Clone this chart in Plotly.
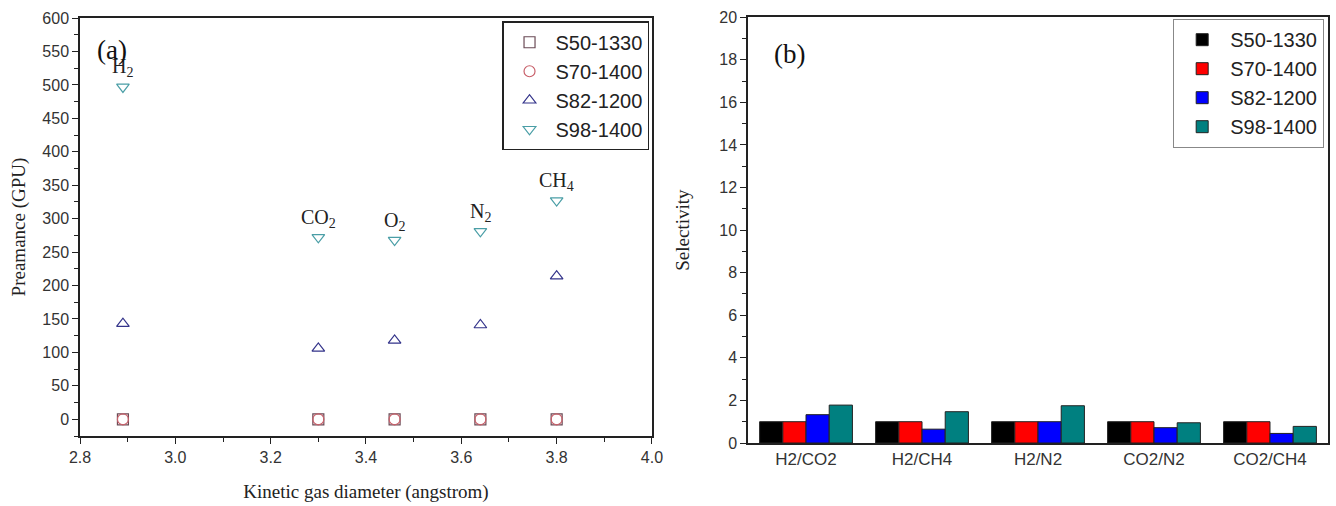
import plotly.graph_objects as go

# Panel (a) data
gases = ["H<sub>2</sub>", "CO<sub>2</sub>", "O<sub>2</sub>", "N<sub>2</sub>", "CH<sub>4</sub>"]
diameters = [2.89, 3.30, 3.46, 3.64, 3.80]
s50_perm = [0, 0, 0, 0, 0]
s70_perm = [0, 0, 0, 0, 0]
s82_perm = [143, 106, 118, 141, 214]
s98_perm = [497, 272, 268, 281, 327]

# Panel (b) data
pairs = ["H2/CO2", "H2/CH4", "H2/N2", "CO2/N2", "CO2/CH4"]
s50_sel = [1.0, 1.0, 1.0, 1.0, 1.0]
s70_sel = [1.0, 1.0, 1.0, 1.0, 1.0]
s82_sel = [1.33, 0.65, 1.0, 0.72, 0.45]
s98_sel = [1.78, 1.47, 1.75, 0.95, 0.78]

series_names = ["S50-1330", "S70-1400", "S82-1200", "S98-1400"]

fig = go.Figure()

sym = ["square-open", "circle-open", "triangle-up-open", "triangle-down-open"]
mcol = ["#6a4a55", "#c8606a", "#33338a", "#4a9ea6"]
for name, vals, s, c in zip(series_names, [s50_perm, s70_perm, s82_perm, s98_perm], sym, mcol):
    fig.add_trace(go.Scatter(x=diameters, y=vals, mode="markers", name=name,
                             marker=dict(symbol=s, size=11, color=c, line=dict(width=1.2, color=c)),
                             xaxis="x", yaxis="y", legend="legend"))

bcol = ["#000000", "#ff0000", "#0000ff", "#008080"]
for name, vals, c in zip(series_names, [s50_sel, s70_sel, s82_sel, s98_sel], bcol):
    fig.add_trace(go.Bar(x=pairs, y=vals, name=name, marker=dict(color=c, line=dict(color="#222", width=1)),
                         xaxis="x2", yaxis="y2", legend="legend2"))

tickfont = dict(family="Liberation Sans, Arial", size=16, color="#333")
axline = dict(showline=True, linecolor="#222", linewidth=1.5, mirror=True, showgrid=False,
              zeroline=False, ticks="outside", ticklen=6, tickcolor="#222", tickfont=tickfont,
              automargin=False)
serif_title = dict(family="Liberation Serif, Times New Roman", size=19, color="#222")

fig.update_layout(
    width=1336, height=506, margin=dict(l=0, r=0, t=0, b=0, autoexpand=False),
    paper_bgcolor="white", plot_bgcolor="white",
    barmode="group", bargap=0.2, bargroupgap=0,
    xaxis=dict(domain=[0.0599, 0.488], range=[2.8, 4.0], dtick=0.2, tickformat=".1f",
               minor=dict(dtick=0.1, ticks="outside", ticklen=4, tickcolor="#222"),
               title=dict(text="Kinetic gas diameter (angstrom)", font=serif_title, standoff=20),
               anchor="y", **axline),
    yaxis=dict(domain=[0.1383, 0.9644], range=[-25, 600], dtick=50,
               minor=dict(dtick=25, ticks="outside", ticklen=4, tickcolor="#222"),
               title=dict(text="Preamance (GPU)", font=serif_title, standoff=12),
               anchor="x", **axline),
    xaxis2=dict(domain=[0.5599, 0.994], anchor="y2", **{**axline, "ticks": "", "tickfont": dict(tickfont, size=17)}),
    yaxis2=dict(domain=[0.1245, 0.966], range=[0, 20], dtick=2,
                minor=dict(dtick=1, ticks="outside", ticklen=4, tickcolor="#222"),
                title=dict(text="Selectivity", font=serif_title, standoff=25),
                anchor="x2", **axline),
    legend=dict(x=0.4858, y=0.958, xanchor="right", yanchor="top", bordercolor="#222", borderwidth=1.5,
                bgcolor="white", font=dict(family="Liberation Sans, Arial", size=20, color="#222"),
                tracegroupgap=0, itemwidth=42),
    legend2=dict(x=0.991, y=0.9625, xanchor="right", yanchor="top", bordercolor="#888", borderwidth=1.2,
                 bgcolor="white", font=dict(family="Liberation Sans, Arial", size=20, color="#222"),
                 tracegroupgap=0, itemwidth=46),
)

serif = dict(family="Liberation Serif, Times New Roman", size=20, color="#222")
for g, xv, yv in zip(gases, diameters, s98_perm):
    fig.add_annotation(x=xv, y=yv, xref="x", yref="y", text=g, showarrow=False,
                       yshift=19, font=serif)

fig.add_annotation(x=0.0838, y=0.901, xref="paper", yref="paper", text="(a)", showarrow=False,
                   xanchor="center", yanchor="middle",
                   font=dict(family="Liberation Serif, Times New Roman", size=27, color="#111"))
fig.add_annotation(x=0.591, y=0.893, xref="paper", yref="paper", text="(b)", showarrow=False,
                   xanchor="center", yanchor="middle",
                   font=dict(family="Liberation Serif, Times New Roman", size=27, color="#111"))

fig.write_html("out.html")
